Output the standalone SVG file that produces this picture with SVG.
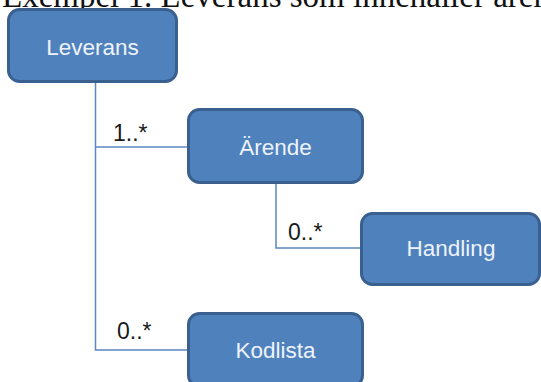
<svg xmlns="http://www.w3.org/2000/svg" width="541" height="382" viewBox="0 0 541 382">
  <style>
    .box { fill: #4f81bd; stroke: #3a6090; stroke-width: 3; }
    .name { font-family: "Liberation Sans", Arial, sans-serif; font-size: 22.5px; fill: #eef3fa; text-anchor: middle; }
    .mult { font-family: "Liberation Sans", Arial, sans-serif; font-size: 23px; fill: #1a1a1a; }
    .link { fill: none; stroke: #5a87c0; stroke-width: 1.5; }
    .caption { font-family: "Liberation Serif", "Times New Roman", serif; font-size: 33px; fill: #111; }
  </style>

  <rect width="541" height="382" fill="#ffffff"/>

  <text class="caption" x="2" y="7">Exempel 1. Leverans som innehåller ären</text>

  <g id="connectors">
    <polyline class="link" points="95.5,83 95.5,350 187,350"/>
    <line class="link" x1="95.5" y1="147" x2="187" y2="147"/>
    <polyline class="link" points="276,184 276,248 360,248"/>
    <text class="mult" x="113" y="141">1..*</text>
    <text class="mult" x="288" y="240">0..*</text>
    <text class="mult" x="117" y="339">0..*</text>
  </g>

  <g id="leverans">
    <rect class="box" x="8.5" y="9.5" width="168" height="72" rx="11"/>
    <text class="name" x="92.5" y="55">Leverans</text>
  </g>

  <g id="arende">
    <rect class="box" x="188.5" y="109.5" width="174" height="73" rx="11"/>
    <text class="name" x="275.5" y="155">Ärende</text>
  </g>

  <g id="handling">
    <rect class="box" x="361.5" y="213.5" width="178" height="71" rx="11"/>
    <text class="name" x="451" y="256">Handling</text>
  </g>

  <g id="kodlista">
    <rect class="box" x="188.5" y="313.5" width="174" height="73" rx="11"/>
    <text class="name" x="275.5" y="358">Kodlista</text>
  </g>
</svg>
